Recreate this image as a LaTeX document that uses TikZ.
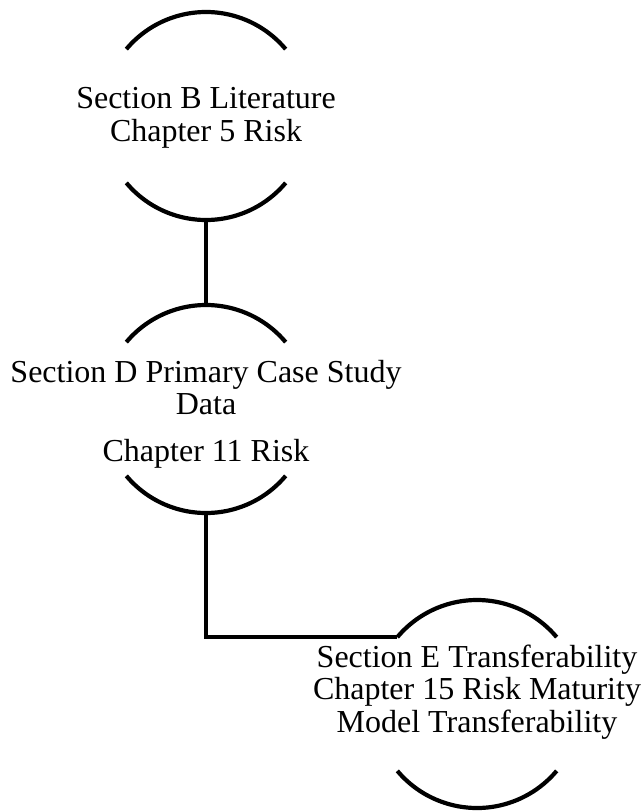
\documentclass[tikz,border=0pt]{standalone}
\usepackage{fontspec}
\setmainfont{Liberation Serif}
\begin{document}
\begin{tikzpicture}[x=1pt,y=-1pt,
  ring/.style={circle,minimum size=208pt,inner sep=0pt,outer sep=0pt,draw=none},
  rim/.style={line width=4.2pt},
  link/.style={line width=4.2pt},
  caption/.style={align=center,inner sep=0pt,
    font=\fontsize{32}{32.5}\selectfont}]
\useasboundingbox (0,0) rectangle (642,811);

% Rings (only the upper and lower arcs are drawn)
\node[ring] (b) at (206,116) {};
\node[ring] (d) at (206,409) {};
\node[ring] (e) at (477,704) {};

\foreach \n in {b,d,e}{
  \draw[rim] (\n.140) arc[start angle=140,end angle=40,radius=104pt];
  \draw[rim] (\n.220) arc[start angle=220,end angle=320,radius=104pt];
}

% Labels
\node[caption] (bt) at (206,118) {Section B Literature\\Chapter 5 Risk};
\node[caption] (dt) at (206,414) {Section D Primary Case Study\\Data\\[14pt]Chapter 11 Risk};
\node[caption] (et) at (477,692) {Section E Transferability\\Chapter 15 Risk Maturity\\Model Transferability};

% Connectors
\draw[link] (b.south) -- (d.north);
\draw[link] (d.south) |- (e.140);
\end{tikzpicture}
\end{document}
